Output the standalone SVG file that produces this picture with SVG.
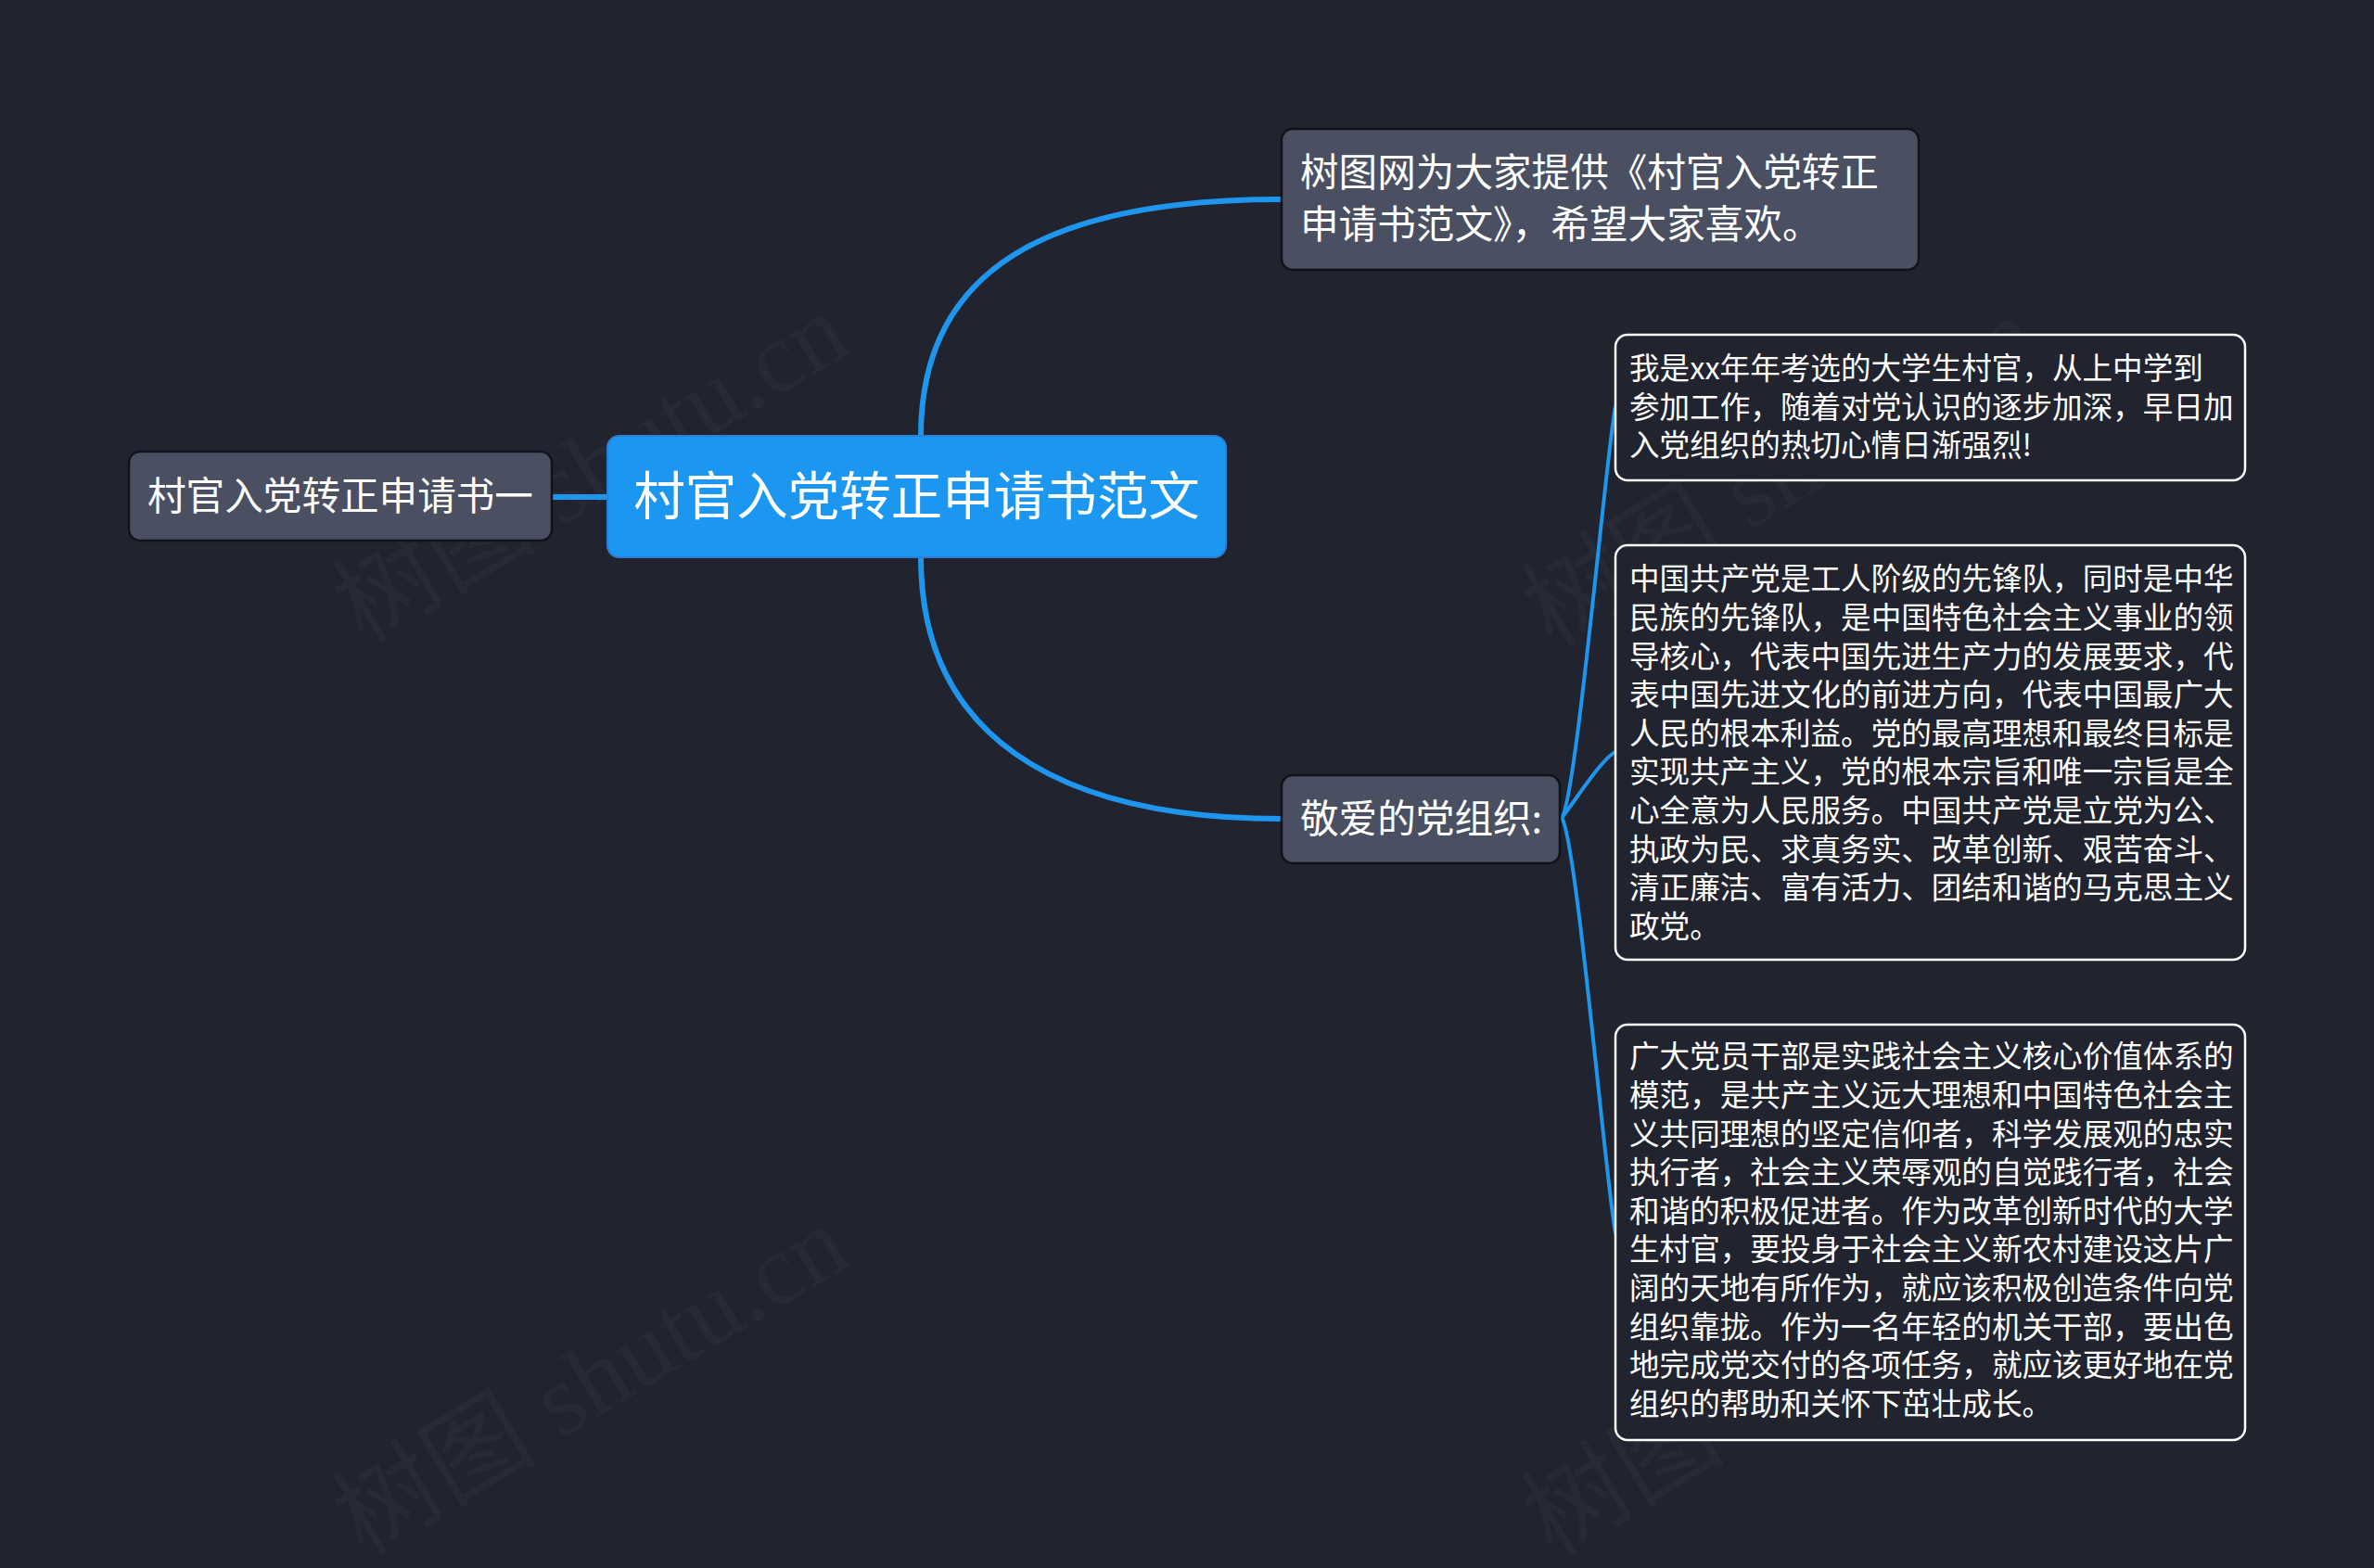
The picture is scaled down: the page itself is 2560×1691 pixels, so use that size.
<svg xmlns="http://www.w3.org/2000/svg" width="2560" height="1691" viewBox="0 0 2560 1691">
<style>
.cjk{font-family:"Noto Sans CJK SC","Noto Sans",sans-serif;fill:#ffffff}
.gray{fill:#4a5061;stroke:#111318;stroke-width:2.5}
.detail{fill:#21242f;stroke:#ffffff;stroke-width:2.5}
.root{fill:#1b97f1;stroke:#2d7fd6;stroke-width:2}
.main{fill:none;stroke:#1e96ee;stroke-width:6;stroke-linecap:round}
.sub{fill:none;stroke:#1e96ee;stroke-width:4;stroke-linecap:round}
.wm{font-family:"Liberation Serif","Noto Sans CJK SC",serif;font-size:110px;fill:#ffffff;fill-opacity:0.03}
.t41{font-size:41.6px}
.t33{font-size:32.6px}
</style>
<rect width="2560" height="1691" fill="#21242f"/>
<g id="watermarks">
<text class="wm" x="645" y="540" text-anchor="middle" transform="rotate(-31 645 518)">树图 shutu.cn</text>
<text class="wm" x="1927" y="544" text-anchor="middle" transform="rotate(-31 1927 522)">树图 shutu.cn</text>
<text class="wm" x="645" y="1524" text-anchor="middle" transform="rotate(-31 645 1502)">树图 shutu.cn</text>
<text class="wm" x="1927" y="1524" text-anchor="middle" transform="rotate(-31 1927 1502)">树图 shutu.cn</text>
</g>
<g id="connectors">
<path class="main" d="M595,536 L655,536"/>
<path class="main" d="M993,470 C993,290 1130,215 1382,215"/>
<path class="main" d="M993,601 C993,790 1135,883 1382,883"/>
<path class="sub" d="M1684,882 C1700,862 1733,478 1742,439"/>
<path class="sub" d="M1684,882 C1697,866 1728,817 1742,811"/>
<path class="sub" d="M1684,882 C1700,902 1733,1290 1742,1329"/>
</g>
<g id="node-left">
<rect class="gray" x="139" y="487" width="456" height="96" rx="12"/>
<text class="cjk t41" x="367" y="550" text-anchor="middle">村官入党转正申请书一</text>
</g>
<g id="node-root">
<rect class="root" x="655" y="470" width="667" height="131" rx="13"/>
<text class="cjk" font-size="55.5" x="988.5" y="555" text-anchor="middle">村官入党转正申请书范文</text>
</g>
<g id="node-top">
<rect class="gray" x="1382" y="139" width="687" height="152" rx="12"/>
<text class="cjk t41"><tspan x="1402" y="201">树图网为大家提供《村官入党转正</tspan><tspan x="1402" y="257">申请书范文》，希望大家喜欢。</tspan></text>
</g>
<g id="node-dear">
<rect class="gray" x="1382" y="836" width="300" height="95" rx="12"/>
<text class="cjk t41" x="1402" y="898">敬爱的党组织:</text>
</g>
<g id="detail-1">
<rect class="detail" x="1742" y="361" width="679" height="157" rx="13"/>
<text class="cjk t33"><tspan x="1757" y="409">我是xx年年考选的大学生村官，从上中学到</tspan><tspan x="1757" y="450.6">参加工作，随着对党认识的逐步加深，早日加</tspan><tspan x="1757" y="492.2">入党组织的热切心情日渐强烈!</tspan></text>
</g>
<g id="detail-2">
<rect class="detail" x="1742" y="588" width="679" height="447" rx="13"/>
<text class="cjk t33"><tspan x="1757" y="636.4">中国共产党是工人阶级的先锋队，同时是中华</tspan><tspan x="1757" y="678">民族的先锋队，是中国特色社会主义事业的领</tspan><tspan x="1757" y="719.6">导核心，代表中国先进生产力的发展要求，代</tspan><tspan x="1757" y="761.2">表中国先进文化的前进方向，代表中国最广大</tspan><tspan x="1757" y="802.8">人民的根本利益。党的最高理想和最终目标是</tspan><tspan x="1757" y="844.4">实现共产主义，党的根本宗旨和唯一宗旨是全</tspan><tspan x="1757" y="886">心全意为人民服务。中国共产党是立党为公、</tspan><tspan x="1757" y="927.6">执政为民、求真务实、改革创新、艰苦奋斗、</tspan><tspan x="1757" y="969.2">清正廉洁、富有活力、团结和谐的马克思主义</tspan><tspan x="1757" y="1010.8">政党。</tspan></text>
</g>
<g id="detail-3">
<rect class="detail" x="1742" y="1105" width="679" height="448" rx="13"/>
<text class="cjk t33"><tspan x="1757" y="1151.4">广大党员干部是实践社会主义核心价值体系的</tspan><tspan x="1757" y="1193">模范，是共产主义远大理想和中国特色社会主</tspan><tspan x="1757" y="1234.6">义共同理想的坚定信仰者，科学发展观的忠实</tspan><tspan x="1757" y="1276.2">执行者，社会主义荣辱观的自觉践行者，社会</tspan><tspan x="1757" y="1317.8">和谐的积极促进者。作为改革创新时代的大学</tspan><tspan x="1757" y="1359.4">生村官，要投身于社会主义新农村建设这片广</tspan><tspan x="1757" y="1401">阔的天地有所作为，就应该积极创造条件向党</tspan><tspan x="1757" y="1442.6">组织靠拢。作为一名年轻的机关干部，要出色</tspan><tspan x="1757" y="1484.2">地完成党交付的各项任务，就应该更好地在党</tspan><tspan x="1757" y="1525.8">组织的帮助和关怀下茁壮成长。</tspan></text>
</g>
</svg>
